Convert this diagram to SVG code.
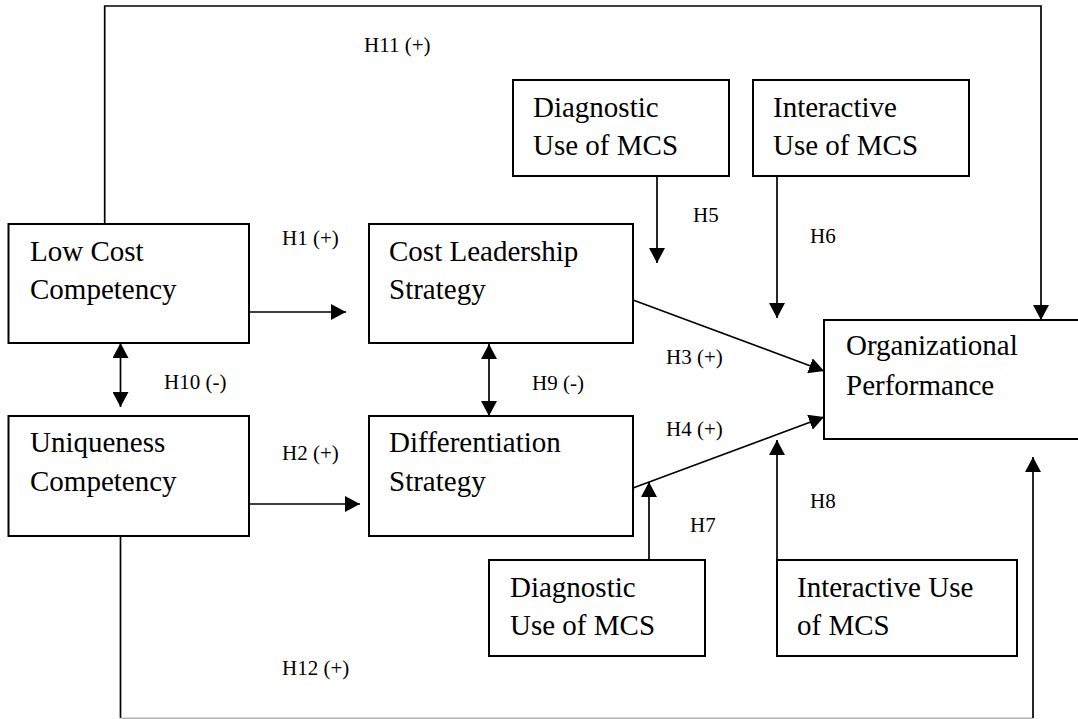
<svg xmlns="http://www.w3.org/2000/svg" width="1078" height="719" viewBox="0 0 1078 719">
  <style>
    .box { fill: #ffffff; stroke: #000000; stroke-width: 2; }
    .name { font-family: "Liberation Serif", "Times New Roman", serif; font-size: 29px; fill: #000000; }
    .lbl { font-family: "Liberation Serif", "Times New Roman", serif; font-size: 21px; fill: #000000; }
    .wire { fill: none; stroke: #000000; stroke-width: 1.7; }
  </style>
  <defs>
    <marker id="head" markerUnits="userSpaceOnUse" markerWidth="16" markerHeight="16" refX="15" refY="8" orient="auto-start-reverse">
      <path d="M0,0 L15,8 L0,16 z" fill="#000000"/>
    </marker>
  </defs>
  <rect width="1078" height="719" fill="#ffffff"/>

  <!-- connectors -->
  <g id="connectors">
    <!-- H11: low cost competency to performance, over the top -->
    <path class="wire" d="M104.7,224 V6 H1041 V320" marker-end="url(#head)"/>
    <!-- H12: uniqueness competency to performance, along the bottom -->
    <path class="wire" d="M120.5,536 V718"/>
    <path d="M120.5,718.2 H1033" fill="none" stroke="#b4b4b4" stroke-width="1.4"/>
    <path class="wire" d="M1033,718 V457" marker-end="url(#head)"/>
    <!-- H1, H2 -->
    <path class="wire" d="M249,312 H346" marker-end="url(#head)"/>
    <path class="wire" d="M249,504 H360" marker-end="url(#head)"/>
    <!-- H10, H9 (two-way) -->
    <path class="wire" d="M120.5,343 V407" marker-start="url(#head)" marker-end="url(#head)"/>
    <path class="wire" d="M489,344 V416" marker-start="url(#head)" marker-end="url(#head)"/>
    <!-- H3, H4 -->
    <path class="wire" d="M633,300 L824,371" marker-end="url(#head)"/>
    <path class="wire" d="M633,488 L824,417" marker-end="url(#head)"/>
    <!-- H5, H6 moderators from above -->
    <path class="wire" d="M657,176 V263" marker-end="url(#head)"/>
    <path class="wire" d="M777,176 V318" marker-end="url(#head)"/>
    <!-- H7, H8 moderators from below -->
    <path class="wire" d="M649,560 V482" marker-end="url(#head)"/>
    <path class="wire" d="M777,560 V440" marker-end="url(#head)"/>
  </g>

  <!-- hypothesis labels -->
  <g id="labels">
    <text class="lbl" x="364" y="52">H11 (+)</text>
    <text class="lbl" x="282" y="245">H1 (+)</text>
    <text class="lbl" x="693" y="222">H5</text>
    <text class="lbl" x="810" y="243">H6</text>
    <text class="lbl" x="666" y="364">H3 (+)</text>
    <text class="lbl" x="164" y="389">H10 (-)</text>
    <text class="lbl" x="532" y="390">H9 (-)</text>
    <text class="lbl" x="666" y="436">H4 (+)</text>
    <text class="lbl" x="282" y="460">H2 (+)</text>
    <text class="lbl" x="810" y="508">H8</text>
    <text class="lbl" x="690" y="532">H7</text>
    <text class="lbl" x="282" y="675">H12 (+)</text>
  </g>

  <g id="low-cost-competency">
    <rect class="box" x="8.5" y="224" width="240.5" height="119"/>
    <text class="name" x="30" y="261">Low Cost</text>
    <text class="name" x="30" y="299">Competency</text>
  </g>

  <g id="cost-leadership-strategy">
    <rect class="box" x="369" y="224" width="264" height="119"/>
    <text class="name" x="389" y="261">Cost Leadership</text>
    <text class="name" x="389" y="299">Strategy</text>
  </g>

  <g id="diagnostic-use-top">
    <rect class="box" x="513" y="80" width="216" height="96"/>
    <text class="name" x="533" y="117">Diagnostic</text>
    <text class="name" x="533" y="155">Use of MCS</text>
  </g>

  <g id="interactive-use-top">
    <rect class="box" x="753" y="80" width="216" height="96"/>
    <text class="name" x="773" y="117">Interactive</text>
    <text class="name" x="773" y="155">Use of MCS</text>
  </g>

  <g id="organizational-performance">
    <rect class="box" x="824" y="320" width="270" height="119"/>
    <text class="name" x="846" y="355">Organizational</text>
    <text class="name" x="846" y="395">Performance</text>
  </g>

  <g id="uniqueness-competency">
    <rect class="box" x="8.5" y="416" width="240.5" height="120"/>
    <text class="name" x="30" y="452">Uniqueness</text>
    <text class="name" x="30" y="491">Competency</text>
  </g>

  <g id="differentiation-strategy">
    <rect class="box" x="369" y="416" width="264" height="120"/>
    <text class="name" x="389" y="452">Differentiation</text>
    <text class="name" x="389" y="491">Strategy</text>
  </g>

  <g id="diagnostic-use-bottom">
    <rect class="box" x="489" y="560" width="216" height="96"/>
    <text class="name" x="510" y="597">Diagnostic</text>
    <text class="name" x="510" y="635">Use of MCS</text>
  </g>

  <g id="interactive-use-bottom">
    <rect class="box" x="777" y="560" width="240" height="96"/>
    <text class="name" x="797" y="597">Interactive Use</text>
    <text class="name" x="797" y="635">of MCS</text>
  </g>
</svg>
